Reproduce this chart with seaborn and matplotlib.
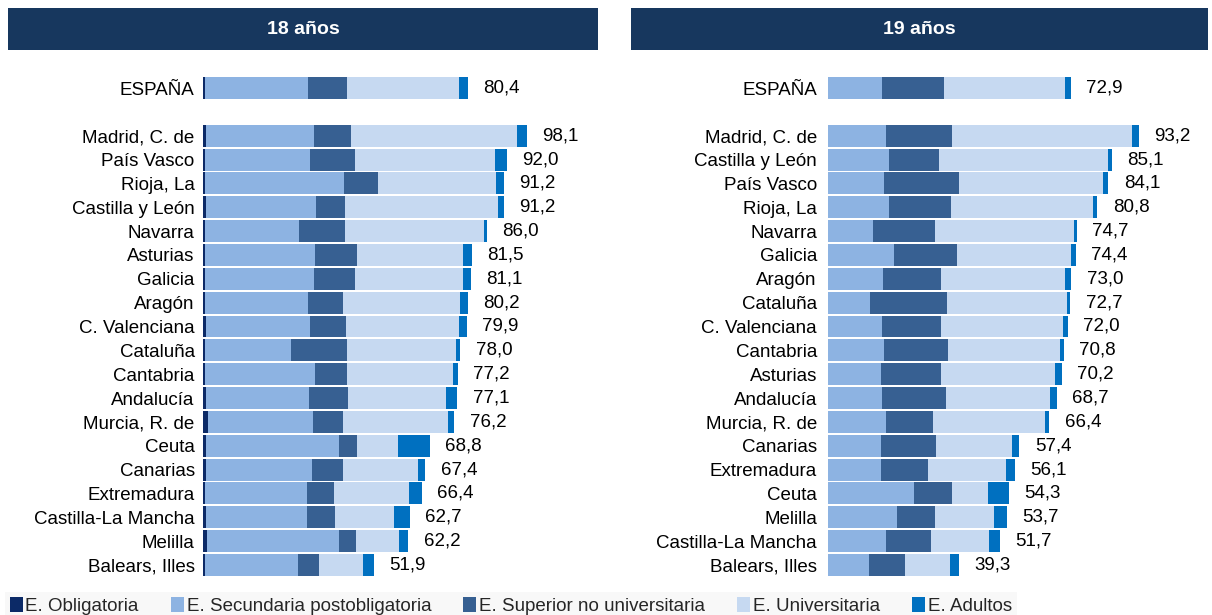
import pandas as pd
import seaborn as sns
import matplotlib.pyplot as plt
from matplotlib.patches import Patch, Rectangle

niveles = ["E. Obligatoria", "E. Secundaria postobligatoria", "E. Superior no universitaria",
           "E. Universitaria", "E. Adultos"]
colores = ["#0c2a67", "#8db3e2", "#376092", "#c6d9f1", "#0070c0"]

# 18 años
ccaa_18 = ["ESPAÑA", " ", "Madrid, C. de", "País Vasco", "Rioja, La", "Castilla y León", "Navarra",
           "Asturias", "Galicia", "Aragón", "C. Valenciana", "Cataluña", "Cantabria", "Andalucía",
           "Murcia, R. de", "Ceuta", "Canarias", "Extremadura", "Castilla-La Mancha", "Melilla",
           "Balears, Illes"]
obl_18 = [0.7, 0, 0.8, 0.7, 0.6, 0.9, 0.5, 0.7, 0.6, 0.5, 0.8, 0.5, 0.7, 1.0, 1.6, 0.8, 0.9, 0.6, 0.9, 1.3, 0.5]
sec_18 = [31.0, 0, 32.8, 31.6, 42.2, 33.4, 28.6, 33.2, 33.1, 31.2, 31.7, 26.3, 33.3, 31.1, 31.6, 40.5, 32.0, 30.8, 30.5, 39.8, 28.4]
sup_18 = [11.9, 0, 11.2, 13.7, 10.1, 8.7, 13.9, 12.7, 12.3, 10.6, 10.7, 16.8, 9.6, 11.9, 9.3, 5.3, 9.6, 8.2, 8.5, 5.4, 6.2]
uni_18 = [34.1, 0, 50.4, 42.6, 35.9, 46.4, 42.1, 32.3, 32.9, 35.7, 34.5, 33.2, 32.3, 29.7, 31.8, 12.5, 22.5, 22.9, 18.0, 12.8, 13.3]
adu_18 = [2.7, 0, 2.9, 3.4, 2.4, 1.8, 0.9, 2.6, 2.2, 2.2, 2.2, 1.2, 1.3, 3.4, 1.9, 9.7, 2.4, 3.9, 4.8, 2.9, 3.5]
total_18 = [80.4, None, 98.1, 92.0, 91.2, 91.2, 86.0, 81.5, 81.1, 80.2, 79.9, 78.0, 77.2, 77.1, 76.2,
            68.8, 67.4, 66.4, 62.7, 62.2, 51.9]

# 19 años
ccaa_19 = ["ESPAÑA", " ", "Madrid, C. de", "Castilla y León", "País Vasco", "Rioja, La", "Navarra",
           "Galicia", "Aragón", "Cataluña", "C. Valenciana", "Cantabria", "Asturias", "Andalucía",
           "Murcia, R. de", "Canarias", "Extremadura", "Ceuta", "Melilla", "Castilla-La Mancha",
           "Balears, Illes"]
obl_19 = [0] * 21
sec_19 = [16.1, 0, 17.5, 18.3, 16.8, 18.3, 13.5, 19.8, 16.5, 12.7, 16.3, 16.8, 15.8, 16.3, 17.4, 15.9, 15.9, 25.8, 20.6, 17.3, 12.2]
sup_19 = [18.7, 0, 19.8, 15.1, 22.6, 18.7, 18.6, 18.8, 17.5, 23.1, 17.6, 19.3, 18.1, 19.2, 14.2, 16.5, 14.1, 11.5, 11.5, 13.6, 10.8]
uni_19 = [36.4, 0, 53.8, 50.6, 43.0, 42.4, 41.8, 34.4, 37.2, 35.9, 36.7, 33.6, 34.3, 31.0, 33.5, 22.8, 23.5, 10.7, 17.7, 17.5, 13.7]
adu_19 = [1.7, 0, 2.1, 1.1, 1.7, 1.4, 0.8, 1.4, 1.8, 1.0, 1.4, 1.1, 2.0, 2.2, 1.3, 2.2, 2.6, 6.3, 3.9, 3.3, 2.6]
total_19 = [72.9, None, 93.2, 85.1, 84.1, 80.8, 74.7, 74.4, 73.0, 72.7, 72.0, 70.8, 70.2, 68.7, 66.4,
            57.4, 56.1, 54.3, 53.7, 51.7, 39.3]

sns.set_theme(style="white")
plt.rcParams["font.family"] = ["Liberation Sans", "DejaVu Sans"]

fig = plt.figure(figsize=(12.12, 6.15), dpi=100, facecolor="white")
W, H = 1212, 615


def panel(ax, labels, segs, totals, xmax, pad):
    df = pd.DataFrame({"ccaa": labels})
    cum = pd.DataFrame(segs).T.cumsum(axis=1)
    # stacked: draw the longest cumulative bar first, shorter ones on top
    for k in range(4, -1, -1):
        df["v"] = cum[k].values
        sns.barplot(data=df, x="v", y="ccaa", orient="h", color=colores[k], saturation=1,
                    width=0.92, linewidth=0, ax=ax)
    ends = cum[4].values
    for i, t in enumerate(totals):
        if t is None:
            continue
        ax.annotate(f"{t:.1f}".replace(".", ","), xy=(ends[i], i), xytext=(11, 0),
                    textcoords="offset points", va="center", ha="left", fontsize=13.5, color="black")
    ax.set_xlim(0, xmax)
    ax.set_ylim(21, -1)
    ax.set_xticks([])
    ax.set_xlabel("")
    ax.set_ylabel("")
    ax.tick_params(axis="y", length=0, pad=pad, labelsize=13.5, labelcolor="black")
    sns.despine(ax=ax, left=True, bottom=True)


ax1 = fig.add_axes([203 / W, 1 - 588.8 / H, (598 - 203) / W, 524.6 / H])
panel(ax1, ccaa_18, [obl_18, sec_18, sup_18, uni_18, adu_18], total_18, (598 - 203) / 3.30, 6)

ax2 = fig.add_axes([828 / W, 1 - 588.8 / H, (1208 - 828) / W, 524.6 / H])
panel(ax2, ccaa_19, [obl_19, sec_19, sup_19, uni_19, adu_19], total_19, (1208 - 828) / 3.335, 8)

# title bars
for x0, x1, txt in [(8, 598, "18 años"), (631, 1208, "19 años")]:
    fig.add_artist(Rectangle((x0 / W, 1 - 50 / H), (x1 - x0) / W, 42 / H,
                             transform=fig.transFigure, facecolor="#17375e", edgecolor="none"))
    fig.text((x0 + x1) / 2 / W, 1 - 29 / H, txt, color="white", fontsize=14,
             fontweight="bold", ha="center", va="center")

handles = [Patch(facecolor=c, edgecolor="none", label=n) for c, n in zip(colores, niveles)]
fig.legend(handles=handles, loc="center left", bbox_to_anchor=(0.004, 1 - 606 / H), ncol=5,
           frameon=True, facecolor="#f8f8f8", edgecolor="none", framealpha=1, fancybox=False,
           fontsize=13.5, handlelength=0.7, handleheight=0.9, handletextpad=0.15,
           columnspacing=1.7, borderaxespad=0, borderpad=0.25)

plt.savefig("out.png", dpi=100)
